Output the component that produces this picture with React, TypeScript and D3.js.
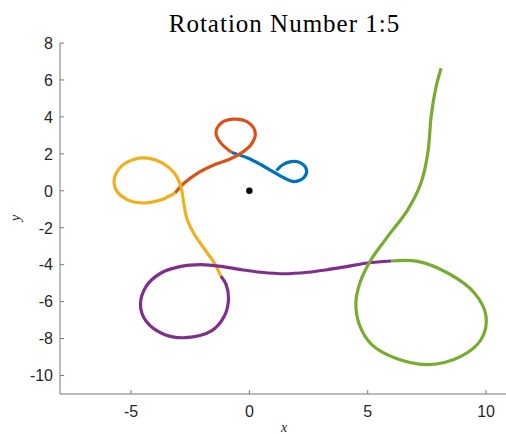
import React from "react";
import * as d3 from "d3";

type P = [number, number];

const blueSeg: P[] = [[1.15,1.1],[1.41,1.41],[1.76,1.58],[2.18,1.50],[2.42,1.10],[2.32,0.74],[1.90,0.50],[1.48,0.69],[1.06,0.99],[0.49,1.41],[-0.07,1.77],[-0.74,2.07]];
const orangeSeg: P[] = [[-0.74,2.07],[-1.20,2.58],[-1.41,3.12],[-1.20,3.66],[-0.63,3.88],[0,3.66],[0.25,3.12],[0.07,2.49],[-0.35,2.04],[-0.84,1.71],[-1.48,1.41],[-2.18,0.96],[-2.75,0.42],[-3.14,-0.12]];
const yellowSeg: P[] = [[-3.14,-0.12],[-3.73,-0.49],[-4.44,-0.66],[-5.14,-0.49],[-5.63,0.05],[-5.70,0.69],[-5.42,1.31],[-4.86,1.71],[-4.29,1.77],[-3.66,1.50],[-3.17,0.96],[-2.89,0.23],[-2.78,-0.6],[-2.64,-1.5],[-2.35,-2.3],[-1.90,-3.15],[-1.48,-3.91],[-1.20,-4.63]];
const purpleSeg: P[] = [[-1.20,-4.63],[-0.98,-5.08],[-0.88,-5.85],[-1.06,-6.79],[-1.62,-7.60],[-2.70,-7.95],[-3.59,-7.78],[-4.36,-7.06],[-4.60,-6.18],[-4.36,-5.17],[-3.73,-4.45],[-2.89,-4.09],[-2.04,-4.00],[-1.20,-4.09],[-0.35,-4.27],[0.49,-4.41],[1.48,-4.49],[2.47,-4.41],[3.31,-4.27],[4.16,-4.09],[5.00,-3.91],[5.99,-3.80]];
const greenSeg: P[] = [[5.99,-3.80],[7.11,-3.82],[8.38,-4.45],[9.51,-5.53],[10.0,-6.79],[9.79,-8.05],[8.94,-8.96],[7.54,-9.41],[6.13,-9.04],[5.15,-8.3],[4.65,-7.25],[4.5,-6.1],[4.68,-4.95],[5.14,-3.73],[5.85,-2.47],[6.69,-1.03],[7.25,0.42],[7.54,2.04],[7.68,4.02],[7.89,5.64],[8.10,6.63]];

const segments = [blueSeg, orangeSeg, yellowSeg, purpleSeg, greenSeg];
const segColors = ["#0072BD", "#D95319", "#EDB120", "#7E2F8E", "#77AC30"];
const centerPoint: P = [0, 0];

const xTicks = [-5, 0, 5, 10];
const yTicks = [-10, -8, -6, -4, -2, 0, 2, 4, 6, 8];
const xDomain: P = [-8, 11];
const yDomain: P = [-11, 8];
const titleText = "Rotation Number 1:5";

const W = 506, H = 434;

export default function App() {
  const x = d3.scaleLinear().domain(xDomain).range([60, 60 + 19 * 23.67]);
  const y = d3.scaleLinear().domain(yDomain).range([394, 43]);
  const line = d3.line<P>().x(d => x(d[0])).y(d => y(d[1])).curve(d3.curveCatmullRom.alpha(0.5));
  const axisColor = "#777";
  const textColor = "#262626";
  return (
    <svg width={W} height={H} style={{ position: "absolute", left: 0, top: 0, background: "#fff" }}>
      <text x={284.5} y={31.7} textAnchor="middle" fontFamily="'Liberation Serif', serif" fontSize={25} letterSpacing={1} fill="#000">{titleText}</text>
      <line x1={x(xDomain[0])} x2={x(xDomain[1])} y1={y(yDomain[0])} y2={y(yDomain[0])} stroke={axisColor} strokeWidth={1} />
      <line x1={x(xDomain[0])} x2={x(xDomain[0])} y1={y(yDomain[0])} y2={y(yDomain[1])} stroke={axisColor} strokeWidth={1} />
      {xTicks.map(t => (
        <g key={"x" + t}>
          <line x1={x(t)} x2={x(t)} y1={y(yDomain[0])} y2={y(yDomain[0]) - 4} stroke={axisColor} />
          <text x={x(t)} y={416.5} textAnchor="middle" fontFamily="'Liberation Sans', Arial, sans-serif" fontSize={16} fill={textColor}>{t}</text>
        </g>
      ))}
      {yTicks.map(t => (
        <g key={"y" + t}>
          <line x1={x(xDomain[0])} x2={x(xDomain[0]) + 4} y1={y(t)} y2={y(t)} stroke={axisColor} />
          <text x={53} y={y(t) + 5.8} textAnchor="end" fontFamily="'Liberation Sans', Arial, sans-serif" fontSize={16} fill={textColor}>{t}</text>
        </g>
      ))}
      <text x={284} y={432} textAnchor="middle" fontFamily="'Liberation Serif', serif" fontStyle="italic" fontSize={14} fill={textColor}>x</text>
      <text transform={`translate(20,218) rotate(-90)`} textAnchor="middle" fontFamily="'Liberation Serif', serif" fontStyle="italic" fontSize={14} fill={textColor}>y</text>
      {segments.map((s, i) => (
        <path key={i} d={line(s) || ""} fill="none" stroke={segColors[i]} strokeWidth={3.2} strokeLinecap="butt" strokeLinejoin="round" />
      ))}
      <circle cx={x(centerPoint[0])} cy={y(centerPoint[1])} r={3.2} fill="#000" />
    </svg>
  );
}
